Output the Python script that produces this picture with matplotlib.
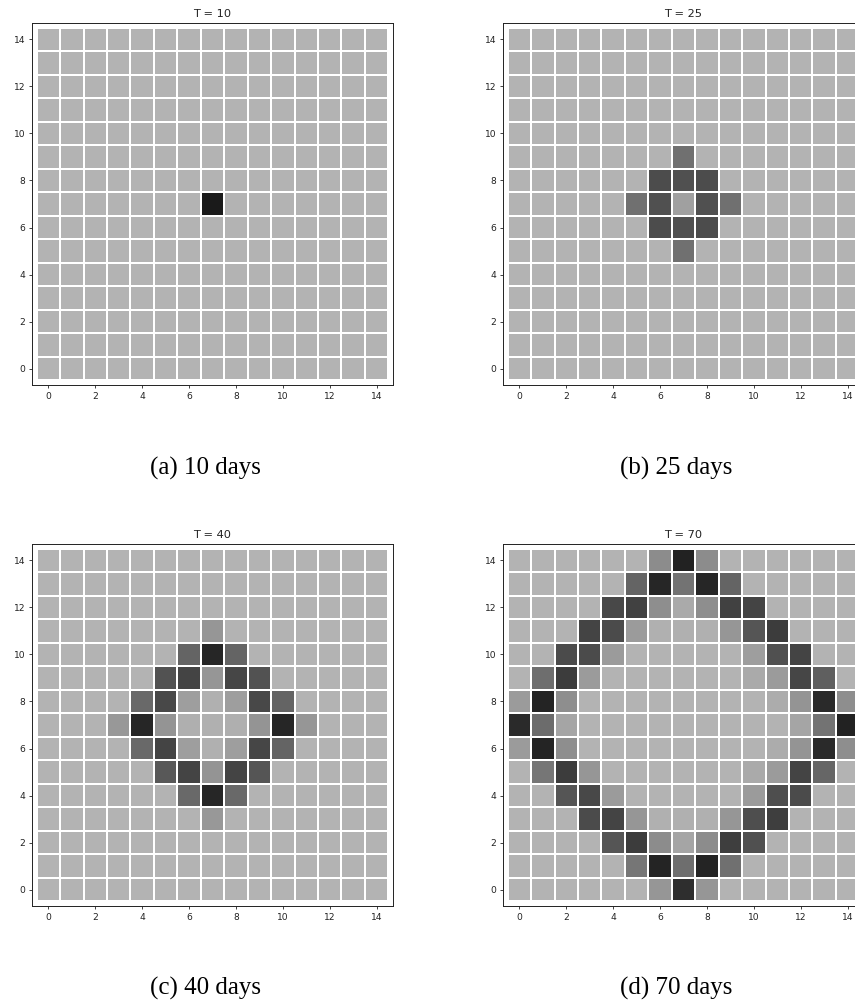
import numpy as np
import matplotlib
matplotlib.use("Agg")
import matplotlib.pyplot as plt

# ---------------- data (gray level of each cell, rows listed from y=14 down to y=0) ----------------
titles = ["T = 10", "T = 25", "T = 40", "T = 70"]
captions = ["(a) 10 days", "(b) 25 days", "(c) 40 days", "(d) 70 days"]
tick_values = [0, 2, 4, 6, 8, 10, 12, 14]

B = 179  # background cell level

grid_t10 = [
    [B] * 15, [B] * 15, [B] * 15, [B] * 15, [B] * 15,
    [B] * 15, [B] * 15,
    [B, B, B, B, B, B, B, 26, B, B, B, B, B, B, B],
    [B] * 15, [B] * 15, [B] * 15, [B] * 15, [B] * 15,
    [B] * 15, [B] * 15,
]

grid_t25 = [
    [B] * 15, [B] * 15, [B] * 15, [B] * 15, [B] * 15,
    [B, B, B, B, B, B, B, 112, B, B, B, B, B, B, B],
    [B, B, B, B, B, B, 76, 80, 76, B, B, B, B, B, B],
    [B, B, B, B, B, 112, 80, 160, 80, 112, B, B, B, B, B],
    [B, B, B, B, B, B, 76, 80, 76, B, B, B, B, B, B],
    [B, B, B, B, B, B, B, 112, B, B, B, B, B, B, B],
    [B] * 15, [B] * 15, [B] * 15, [B] * 15, [B] * 15,
]

grid_t40 = [
    [B] * 15, [B] * 15, [B] * 15,
    [B, B, B, B, B, B, B, 150, B, B, B, B, B, B, B],
    [B, B, B, B, B, B, 100, 38, 100, B, B, B, B, B, B],
    [B, B, B, B, B, 82, 68, 150, 70, 82, B, B, B, B, B],
    [B, B, B, B, 105, 72, 158, 176, 158, 72, 100, B, B, B, B],
    [B, B, B, 152, 38, 148, 175, 176, 175, 148, 38, 150, B, B, B],
    [B, B, B, B, 105, 68, 158, 176, 158, 70, 100, B, B, B, B],
    [B, B, B, B, B, 88, 68, 148, 68, 85, B, B, B, B, B],
    [B, B, B, B, B, B, 105, 38, 105, B, B, B, B, B, B],
    [B, B, B, B, B, B, B, 152, B, B, B, B, B, B, B],
    [B] * 15, [B] * 15, [B] * 15,
]

grid_t70 = [
    [B, B, B, B, B, B, 140, 34, 140, B, B, B, B, B, B],
    [B, B, B, B, B, 100, 38, 115, 38, 100, B, B, B, B, B],
    [B, B, B, B, 72, 65, 142, 170, 142, 65, 68, B, B, B, B],
    [B, B, B, 68, 75, 155, 176, 176, 176, 150, 85, 60, B, B, B],
    [B, B, 75, 75, 155, B, B, B, B, B, 158, 80, 68, B, B],
    [B, 110, 60, 155, B, B, B, B, B, B, 170, 155, 70, 95, B],
    [155, 36, 142, B, B, B, B, B, B, B, B, 172, 148, 42, 142],
    [42, 108, 165, B, B, B, B, B, B, B, B, B, 165, 115, 34],
    [155, 36, 142, B, B, B, B, B, B, B, B, 172, 148, 42, 142],
    [B, 118, 60, 150, B, B, B, B, B, B, 170, 155, 68, 102, B],
    [B, B, 85, 72, 155, B, B, B, B, B, 155, 78, 75, B, B],
    [B, B, B, 75, 68, 150, 176, 176, 176, 150, 78, 62, B, B, B],
    [B, B, B, B, 85, 60, 140, 165, 140, 62, 80, B, B, B, B],
    [B, B, B, B, B, 118, 36, 110, 36, 112, B, B, B, B, B],
    [B, B, B, B, B, B, 150, 46, 150, B, B, B, B, B, B],
]

grids = [grid_t10, grid_t25, grid_t40, grid_t70]

# ---------------- layout ----------------
W, H = 855, 1002
fig = plt.figure(figsize=(W / 100, H / 100), dpi=100)

ax_w, ax_h = 361, 362
lefts = [32, 503, 32, 503]
tops = [23, 23, 544, 544]
cap_y = [468, 468, 988, 988]

for i in range(4):
    l, t = lefts[i], tops[i]
    ax = fig.add_axes([l / W, 1 - (t + ax_h) / H, ax_w / W, ax_h / H])
    data = np.array(grids[i], dtype=float)[::-1]  # row 0 -> y=0
    n = data.shape[0]
    edges = np.arange(n + 1) - 0.5
    ax.pcolormesh(edges, edges, data, cmap="gray", vmin=0, vmax=255,
                  edgecolors="white", linewidth=1.25)
    ax.set_xlim(-0.7, 14.7)
    ax.set_ylim(-0.7, 14.7)
    ax.set_xticks(tick_values)
    ax.set_yticks(tick_values)
    ax.tick_params(labelsize=6.6, length=2.4, width=0.6, pad=2.3, colors="#222222")
    for s in ax.spines.values():
        s.set_linewidth(0.7)
        s.set_color("#222222")
    ax.set_title(titles[i], fontsize=8.2, pad=4, color="#222222")

    cx = (l + ax_w / 2 - 7) / W
    fig.text(cx, 1 - cap_y[i] / H, captions[i], ha="center", va="center",
             fontsize=18, family="Liberation Serif", color="black")

fig.savefig("out.png", dpi=100)
